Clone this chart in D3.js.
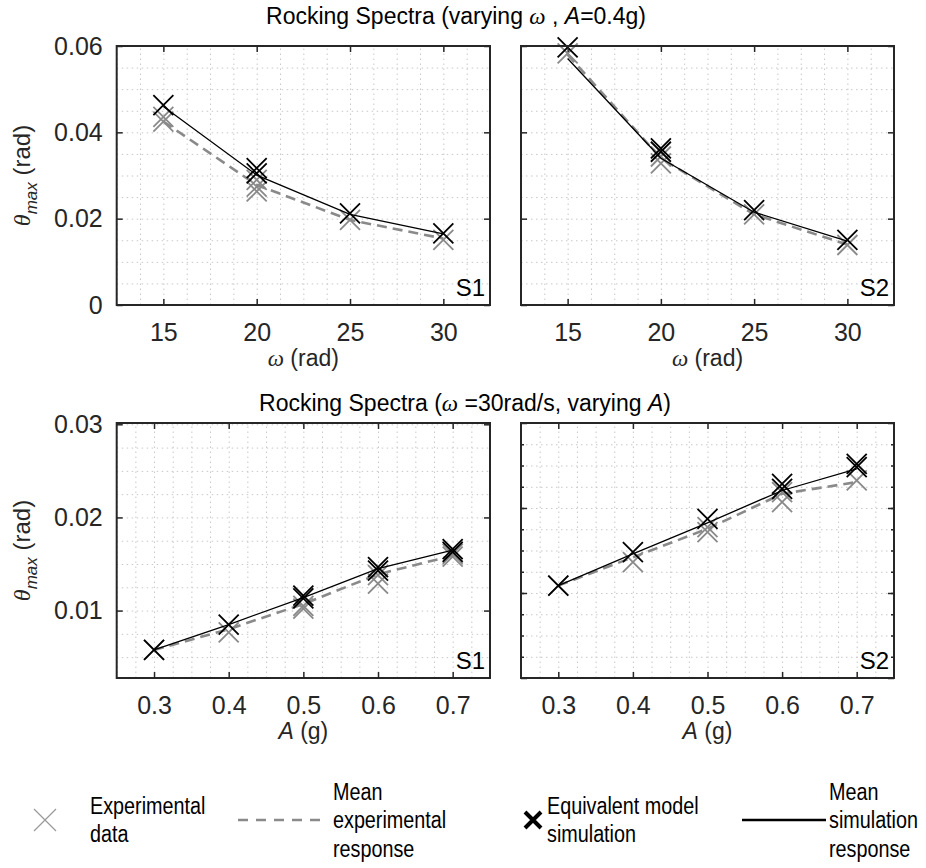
<!DOCTYPE html>
<html>
<head>
<meta charset="utf-8">
<script src="https://cdn.jsdelivr.net/npm/d3@7"></script>
<style>
body { margin: 0; background: #fff; }
svg { display: block; font-family: "Liberation Sans", Arial, sans-serif; }
</style>
</head>
<body>
<svg id="chart" width="926" height="868"></svg>
<script>

// x values
const omegaVals = [15, 20, 25, 30];
const accelVals = [0.3, 0.4, 0.5, 0.6, 0.7];

// tick labels
const omegaXTicks = [15, 20, 25, 30];
const accelXTicks = [0.3, 0.4, 0.5, 0.6, 0.7];
const omegaYTicks = [0, 0.02, 0.04, 0.06];
const accelYTicksS1 = [0.01, 0.02, 0.03];
const accelYTicksS2 = [0, 0.01, 0.02, 0.03];

// S1, varying omega (each x can hold several runs)
const s1OmegaExp = [[0.0436, 0.0425], [0.029, 0.0274, 0.0263], [0.0197], [0.0151]];
const s1OmegaSim = [[0.0463], [0.0317, 0.0305], [0.0212], [0.0166]];
const s1OmegaExpMean = [0.0425, 0.0278, 0.0197, 0.0154];
const s1OmegaSimMean = [0.0460, 0.0301, 0.0210, 0.0165];

// S2, varying omega
const s2OmegaExp = [[0.0583], [0.0344, 0.0328], [0.021], [0.0139]];
const s2OmegaSim = [[0.0597], [0.0363, 0.0355], [0.022], [0.0151]];
const s2OmegaExpMean = [0.058, 0.034, 0.021, 0.014];
const s2OmegaSimMean = [0.0571, 0.034, 0.0215, 0.0148];

// S1, varying A
const s1AccelExp = [[0.00577], [0.00767], [0.0105, 0.0102], [0.0138, 0.0129], [0.0161, 0.0158]];
const s1AccelSim = [[0.00577], [0.0085], [0.0116, 0.0113], [0.01466, 0.0143], [0.0166, 0.0163]];
const s1AccelExpMean = [0.00577, 0.0080, 0.0107, 0.0139, 0.0159];
const s1AccelSimMean = [0.00577, 0.0085, 0.0114, 0.0145, 0.0165];

// S2, varying A
const s2AccelExp = [[0.01087], [0.01363], [0.01775, 0.01716], [0.02187, 0.0207], [0.02324]];
const s2AccelSim = [[0.01087], [0.0148], [0.01873], [0.02285, 0.02226], [0.0252, 0.0248]];
const s2AccelExpMean = [0.01087, 0.0142, 0.01755, 0.02167, 0.02305];
const s2AccelSimMean = [0.01087, 0.0146, 0.01826, 0.02206, 0.0246];

const svg = d3.select("#chart");

const expColor = "#8a8a8a";
const axColor = "#262626";

function crossPath(r) {
    return `M${-r},${-r}L${r},${r}M${-r},${r}L${r},${-r}`;
}

function drawPanel(p) {
    const x = d3.scaleLinear().domain(p.xDomain).range([p.left, p.right]);
    const y = d3.scaleLinear().domain(p.yDomain).range([p.bottom, p.top]);
    const w = p.right - p.left;
    const h = p.bottom - p.top;

    const g = svg.append("g");

    // dotted grid
    const gx = g.append("g")
        .attr("transform", `translate(0, ${p.bottom})`)
        .call(d3.axisBottom(x).tickValues(p.xGrid).tickSize(-h).tickFormat(""));
    const gy = g.append("g")
        .attr("transform", `translate(${p.left}, 0)`)
        .call(d3.axisLeft(y).tickValues(p.yGrid).tickSize(-w).tickFormat(""));
    [gx, gy].forEach(a => {
        a.select(".domain").remove();
        a.selectAll("line")
         .attr("stroke", "#c8c8c8")
         .attr("stroke-width", 1)
         .attr("stroke-dasharray", "1.5,3.5");
    });

    // data
    const expPts = [], simPts = [];
    p.xVals.forEach((xv, i) => {
        p.exp[i].forEach(v => expPts.push([xv, v]));
        p.sim[i].forEach(v => simPts.push([xv, v]));
    });

    g.selectAll(".expm")
     .data(expPts)
     .enter()
     .append("path")
     .attr("d", crossPath(10))
     .attr("transform", d => `translate(${x(d[0])}, ${y(d[1])})`)
     .attr("fill", "none")
     .attr("stroke", expColor)
     .attr("stroke-width", 1.8);

    const line = d3.line().x(d => x(d[0])).y(d => y(d[1]));

    g.append("path")
     .attr("d", line(p.xVals.map((xv, i) => [xv, p.expMean[i]])))
     .attr("fill", "none")
     .attr("stroke", expColor)
     .attr("stroke-width", 2.6)
     .attr("stroke-dasharray", "10,6");

    g.selectAll(".simm")
     .data(simPts)
     .enter()
     .append("path")
     .attr("d", crossPath(10))
     .attr("transform", d => `translate(${x(d[0])}, ${y(d[1])})`)
     .attr("fill", "none")
     .attr("stroke", "#000")
     .attr("stroke-width", 1.8);

    g.append("path")
     .attr("d", line(p.xVals.map((xv, i) => [xv, p.simMean[i]])))
     .attr("fill", "none")
     .attr("stroke", "#000")
     .attr("stroke-width", 1.3);

    // ticks on all four sides
    const axB = g.append("g").attr("transform", `translate(0, ${p.bottom})`)
        .call(d3.axisBottom(x).tickValues(p.xTicks).tickSize(-6).tickPadding(18).tickFormat(d3.format(p.xFmt)));
    const axT = g.append("g").attr("transform", `translate(0, ${p.top})`)
        .call(d3.axisTop(x).tickValues(p.xTicks).tickSize(-6).tickFormat(""));
    const axL = g.append("g").attr("transform", `translate(${p.left}, 0)`)
        .call(d3.axisLeft(y).tickValues(p.yTicks).tickSize(-6).tickPadding(14)
              .tickFormat(p.yLabels ? (d => d === 0 ? "0" : d3.format(".2f")(d)) : ""));
    const axR = g.append("g").attr("transform", `translate(${p.right}, 0)`)
        .call(d3.axisRight(y).tickValues(p.yTicks).tickSize(-6).tickFormat(""));

    [axB, axT, axL, axR].forEach(a => {
        a.select(".domain").remove();
        a.selectAll("line").attr("stroke", axColor).attr("stroke-width", 1.5);
        a.selectAll("text")
         .attr("fill", axColor)
         .style("font-size", "25px")
         .style("font-family", "Liberation Sans, Arial, sans-serif");
    });

    if (p.yMinor) {
        [["left", p.left, d3.axisLeft], ["right", p.right, d3.axisRight]].forEach(s => {
            const m = g.append("g").attr("transform", `translate(${s[1]}, 0)`)
                .call(s[2](y).tickValues(p.yGrid).tickSize(-3).tickFormat(""));
            m.select(".domain").remove();
            m.selectAll("line").attr("stroke", axColor).attr("stroke-width", 1.5);
        });
    }

    // box
    g.append("rect")
     .attr("x", p.left)
     .attr("y", p.top)
     .attr("width", w)
     .attr("height", h)
     .attr("fill", "none")
     .attr("stroke", axColor)
     .attr("stroke-width", 2);

    // S1 / S2 tag
    g.append("text")
     .attr("x", p.right - 5)
     .attr("y", p.bottom - 9)
     .attr("text-anchor", "end")
     .attr("fill", "#000")
     .style("font-size", "24px")
     .text(p.tag);

    // x label
    const xl = g.append("text")
        .attr("x", (p.left + p.right) / 2)
        .attr("y", p.bottom + 61)
        .attr("text-anchor", "middle")
        .attr("fill", axColor)
        .style("font-size", "23px");
    if (p.xLabel === "omega") {
        xl.append("tspan").style("font-family", "Liberation Serif, serif").style("font-style", "italic").text("ω");
        xl.append("tspan").text(" (rad)");
    } else {
        xl.append("tspan").style("font-style", "italic").text("A");
        xl.append("tspan").text(" (g)");
    }

    // y label
    if (p.yLabels) {
        const yl = g.append("text")
            .attr("transform", `translate(30, ${(p.top + p.bottom) / 2}) rotate(-90)`)
            .attr("text-anchor", "middle")
            .attr("fill", axColor)
            .style("font-size", "24px");
        yl.append("tspan").style("font-style", "italic").style("font-family", "Liberation Serif, serif").text("θ");
        yl.append("tspan").attr("dy", 7).style("font-style", "italic").style("font-size", "17px").text("max");
        yl.append("tspan").attr("dy", -7).text(" (rad)");
    }
}

const topY = [46, 305];
const botY = [423, 678];
const leftX = [116.7, 490];
const rightX = [521, 894];

const omegaGridX = d3.range(12.5, 32.6, 1.25);
const omegaGridY = d3.range(0, 0.0601, 0.005);
const accelGridX = d3.range(0.25, 0.751, 0.025);

drawPanel({ left: leftX[0], right: leftX[1], top: topY[0], bottom: topY[1],
    xDomain: [12.5, 32.5], yDomain: [0, 0.06], xVals: omegaVals,
    xTicks: omegaXTicks, yTicks: omegaYTicks, xGrid: omegaGridX, yGrid: omegaGridY,
    xFmt: "d", yLabels: true, xLabel: "omega", tag: "S1",
    exp: s1OmegaExp, sim: s1OmegaSim, expMean: s1OmegaExpMean, simMean: s1OmegaSimMean });

drawPanel({ left: rightX[0], right: rightX[1], top: topY[0], bottom: topY[1],
    xDomain: [12.5, 32.5], yDomain: [0, 0.06], xVals: omegaVals,
    xTicks: omegaXTicks, yTicks: omegaYTicks, xGrid: omegaGridX, yGrid: omegaGridY,
    xFmt: "d", yLabels: false, xLabel: "omega", tag: "S2",
    exp: s2OmegaExp, sim: s2OmegaSim, expMean: s2OmegaExpMean, simMean: s2OmegaSimMean });

drawPanel({ left: leftX[0], right: leftX[1], top: botY[0], bottom: botY[1],
    xDomain: [0.25, 0.75], yDomain: [0.00276, 0.03014], xVals: accelVals,
    xTicks: accelXTicks, yTicks: accelYTicksS1, xGrid: accelGridX, yGrid: d3.range(0.005, 0.0301, 0.0025),
    xFmt: ".1f", yLabels: true, xLabel: "A", tag: "S1",
    exp: s1AccelExp, sim: s1AccelSim, expMean: s1AccelExpMean, simMean: s1AccelSimMean });

drawPanel({ left: rightX[0], right: rightX[1], top: botY[0], bottom: botY[1],
    xDomain: [0.25, 0.75], yDomain: [0, 0.03], xVals: accelVals,
    xTicks: accelXTicks, yTicks: accelYTicksS2, xGrid: accelGridX, yGrid: d3.range(0.0025, 0.0299, 0.0025),
    xFmt: ".1f", yLabels: false, xLabel: "A", tag: "S2", yMinor: true,
    exp: s2AccelExp, sim: s2AccelSim, expMean: s2AccelExpMean, simMean: s2AccelSimMean });

// titles
const t1 = svg.append("text").attr("x", 456).attr("y", 24).attr("text-anchor", "middle")
    .attr("fill", "#000").style("font-size", "23px");
t1.append("tspan").text("Rocking Spectra (varying ");
t1.append("tspan").style("font-family", "Liberation Serif, serif").style("font-style", "italic").text("ω");
t1.append("tspan").text(" , ");
t1.append("tspan").style("font-style", "italic").text("A");
t1.append("tspan").text("=0.4g)");

const t2 = svg.append("text").attr("x", 465).attr("y", 411).attr("text-anchor", "middle")
    .attr("fill", "#000").style("font-size", "23px");
t2.append("tspan").text("Rocking Spectra (");
t2.append("tspan").style("font-family", "Liberation Serif, serif").style("font-style", "italic").text("ω");
t2.append("tspan").text(" =30rad/s, varying  ");
t2.append("tspan").style("font-style", "italic").text("A");
t2.append("tspan").text(")");

// legend
const legendY = 820;
const leg = svg.append("g").style("font-size", "23px");

leg.append("path").attr("d", crossPath(11)).attr("transform", `translate(45, ${legendY})`)
   .attr("fill", "none").attr("stroke", "#999").attr("stroke-width", 1.2);
leg.append("line").attr("x1", 238).attr("x2", 326).attr("y1", legendY).attr("y2", legendY)
   .attr("stroke", expColor).attr("stroke-width", 2.6).attr("stroke-dasharray", "10,8");
leg.append("path").attr("d", crossPath(8)).attr("transform", `translate(533, ${legendY})`)
   .attr("fill", "none").attr("stroke", "#000").attr("stroke-width", 4);
leg.append("line").attr("x1", 742).attr("x2", 826).attr("y1", legendY).attr("y2", legendY)
   .attr("stroke", "#000").attr("stroke-width", 2.6);

const legendText = [
    { x: 90, lines: ["Experimental", "data"] },
    { x: 333, lines: ["Mean", "experimental", "response"] },
    { x: 547, lines: ["Equivalent model", "simulation"] },
    { x: 829, lines: ["Mean", "simulation", "response"] }
];
legendText.forEach(t => {
    const n = t.lines.length;
    t.lines.forEach((s, i) => {
        leg.append("text")
           .attr("transform", `translate(${t.x}, ${legendY + 8 + (i - (n - 1) / 2) * 28.5}) scale(0.86, 1)`)
           .attr("fill", "#000")
           .text(s);
    });
});

</script>
</body>
</html>
